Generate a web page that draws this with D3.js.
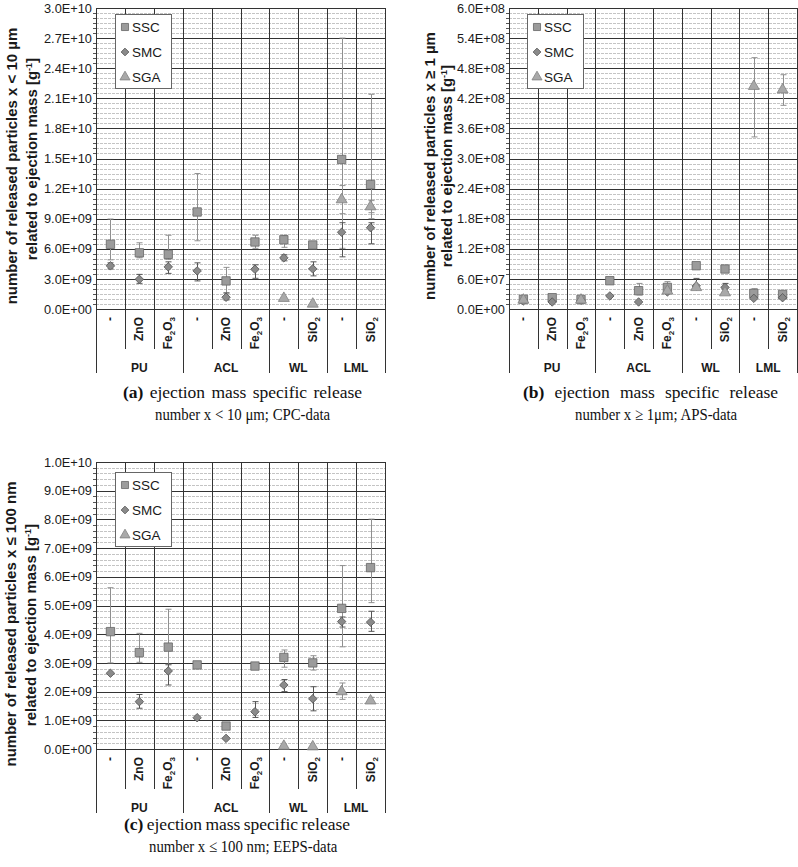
<!DOCTYPE html>
<html>
<head>
<meta charset="utf-8">
<script src="https://cdn.jsdelivr.net/npm/d3@7"></script>
<style>
  body { margin: 0; background: #fff; }
  svg { display: block; }
</style>
</head>
<body>
<svg id="chart" width="798" height="867"></svg>
<script>
// categories shared by all three panels
const cats = ["-", "ZnO", "Fe2O3", "-", "ZnO", "Fe2O3", "-", "SiO2", "-", "SiO2"];
const groups = ["PU", "ACL", "WL", "LML"];
const groupSizes = [3, 3, 2, 2];
const seriesNames = ["SSC", "SMC", "SGA"];

// (a) CPC-data, unit 1e9
const cpcSSC   = [6.45, 5.6, 5.45, 9.67, 2.8, 6.68, 6.9, 6.38, 14.9, 12.4];
const cpcSSCLo = [4.9, 5.1, 4.95, 6.8, 1.6, 6.05, 6.15, 6.15, 6.05, 9.0];
const cpcSSCHi = [8.97, 6.6, 7.35, 13.5, 4.15, 7.35, 7.35, 6.6, 27.0, 21.4];
const cpcSMC   = [4.3, 2.96, 4.2, 3.8, 1.17, 3.96, 5.1, 4.0, 7.65, 8.1];
const cpcSMCLo = [4.0, 2.56, 3.55, 2.8, 0.9, 3.06, 4.8, 3.3, 5.2, 6.5];
const cpcSMCHi = [4.6, 3.45, 4.7, 4.6, 1.6, 4.4, 5.4, 4.7, 8.6, 8.6];
const cpcSGA   = [null, null, null, null, null, null, 1.07, 0.5, 10.9, 10.2];
const cpcSGALo = [null, null, null, null, null, null, null, null, 9.5, 9.6];
const cpcSGAHi = [null, null, null, null, null, null, null, null, 12.3, 10.8];

// (b) APS-data, unit 1e7
const apsSSC   = [1.93, 2.25, 1.9, 5.64, 3.65, 4.3, 8.63, 7.97, 3.1, 2.9];
const apsSSCLo = [null, null, null, 5.3, 2.8, 3.1, 8.2, 7.5, 2.2, 2.2];
const apsSSCHi = [null, null, null, 6.0, 5.1, 5.45, 9.1, 8.4, 4.05, 3.5];
const apsSMC   = [1.6, 1.4, 1.73, 2.6, 1.4, 3.4, 4.6, 4.3, 2.13, 2.25];
const apsSMCLo = [null, null, null, null, null, null, 4.0, 3.5, null, null];
const apsSMCHi = [null, null, null, null, null, null, 6.1, 5.1, null, null];
const apsSGA   = [1.8, null, 1.8, null, null, 3.6, 4.3, 3.25, 44.4, 43.7];
const apsSGALo = [null, null, null, null, null, null, null, null, 34.3, 40.6];
const apsSGAHi = [null, null, null, null, null, null, null, null, 50.1, 46.7];

// (c) EEPS-data, unit 1e9
const eepsSSC   = [4.09, 3.36, 3.55, 2.93, 0.8, 2.89, 3.19, 3.0, 4.9, 6.32];
const eepsSSCLo = [3.0, 3.02, 2.93, 2.85, 0.7, 2.8, 2.85, 2.75, 3.56, 5.1];
const eepsSSCHi = [5.62, 4.03, 4.87, 3.0, 0.9, 3.0, 3.45, 3.25, 6.39, 8.01];
const eepsSMC   = [2.64, 1.65, 2.72, 1.09, 0.37, 1.3, 2.23, 1.75, 4.44, 4.42];
const eepsSMCLo = [null, 1.42, 2.23, null, null, 1.1, 2.0, 1.33, 4.25, 4.1];
const eepsSMCHi = [null, 1.9, 2.96, null, null, 1.65, 2.42, 2.17, 4.6, 4.8];
const eepsSGA   = [null, null, null, null, null, null, 0.1, 0.08, 2.0, 1.68];
const eepsSGALo = [null, null, null, null, null, null, null, null, 1.73, 1.6];
const eepsSGAHi = [null, null, null, null, null, null, null, null, 2.3, 1.8];

const panels = [
  {
    x0: 96, x1: 385, y0: 8, y1: 309, unit: 1e9, ymax: 30, major: 3, minor: 0.5,
    title: ["number of released particles x < 10 µm", "related to ejection mass [g"],
    titleX: [17, 37], titleY: [166, 159],
    legend: [115, 14],
    caption: ["(a)", " ejection mass specific release", "number x < 10 μm; CPC-data"],
    capX: [123, 362, 155], capY: [398, 420],
    series: [
      [cpcSSC, cpcSSCLo, cpcSSCHi], [cpcSMC, cpcSMCLo, cpcSMCHi], [cpcSGA, cpcSGALo, cpcSGAHi]
    ]
  },
  {
    x0: 509, x1: 797, y0: 8, y1: 309, unit: 1e7, ymax: 60, major: 6, minor: 1,
    title: ["number of released particles x ≥ 1 µm", "related to ejection mass [g"],
    titleX: [435, 452], titleY: [166, 166],
    legend: [527, 14],
    caption: ["(b)", " ejection mass specific release", "number x ≥ 1μm; APS-data"],
    capX: [523, 778, 575], capY: [398, 420],
    series: [
      [apsSSC, apsSSCLo, apsSSCHi], [apsSMC, apsSMCLo, apsSMCHi], [apsSGA, apsSGALo, apsSGAHi]
    ]
  },
  {
    x0: 96, x1: 385, y0: 462, y1: 749, unit: 1e9, ymax: 10, major: 1, minor: 0.2,
    title: ["number of released particles x ≤ 100 nm", "related to ejection mass [g"],
    titleX: [16, 36], titleY: [624, 625],
    legend: [115, 472],
    caption: ["(c)", " ejection mass specific release", "number x ≤ 100 nm; EEPS-data"],
    capX: [124, 350, 149], capY: [830, 852],
    series: [
      [eepsSSC, eepsSSCLo, eepsSSCHi], [eepsSMC, eepsSMCLo, eepsSMCHi], [eepsSGA, eepsSGALo, eepsSGAHi]
    ]
  }
];

const markerStyle = [
  {fill: "#9b9b9b", stroke: "#666"},
  {fill: "#8a8a8a", stroke: "#555"},
  {fill: "#a9a9a9", stroke: "#808080"}
];
const errColor = ["#8f8f8f", "#555", "#8f8f8f"];

function sciFmt(v) {
  if (v === 0) return "0.0E+00";
  let e = Math.floor(Math.log10(v) + 1e-9);
  let m = v / Math.pow(10, e);
  return m.toFixed(1) + "E+" + String(e).padStart(2, "0");
}

function marker(sel, i, big) {
  if (i === 0) {
    sel.attr("d", d3.symbol(d3.symbolSquare, big ? 70 : 50)());
  } else if (i === 1) {
    sel.attr("d", d3.symbol(d3.symbolSquare, big ? 36 : 30)());
  } else {
    sel.attr("d", d3.symbol(d3.symbolTriangle, big ? 52 : 44)());
  }
  sel.attr("fill", markerStyle[i].fill).attr("stroke", markerStyle[i].stroke).attr("stroke-width", 0.8);
}

// chemistry label with subscripts
function chemText(t, label) {
  let parts = label.match(/[A-Za-z\-]+|\d+/g);
  let shifted = false;
  parts.forEach(p => {
    if (/\d/.test(p)) {
      t.append("tspan").attr("dy", 3).attr("font-size", "8px").text(p);
      shifted = true;
    } else {
      t.append("tspan").attr("dy", shifted ? -3 : 0).text(p);
      shifted = false;
    }
  });
}

const svg = d3.select("#chart");
svg.append("rect").attr("width", 798).attr("height", 867).attr("fill", "#fff");

panels.forEach(p => {
  const g = svg.append("g");
  const x = d3.scaleBand().domain(d3.range(cats.length)).range([p.x0, p.x1]);
  const y = d3.scaleLinear().domain([0, p.ymax]).range([p.y1, p.y0]);

  const minorVals = d3.range(0, p.ymax + 1e-9, p.minor).filter(v => Math.abs(v / p.major - Math.round(v / p.major)) > 1e-6);
  const majorVals = d3.range(0, p.ymax + 1e-9, p.major);

  // minor grid
  g.append("g").selectAll("line").data(minorVals).join("line")
    .attr("x1", p.x0).attr("x2", p.x1)
    .attr("y1", d => Math.round(y(d)) + 0.5).attr("y2", d => Math.round(y(d)) + 0.5)
    .attr("stroke", "#c4c4c4").attr("stroke-dasharray", "3,1");

  // minor ticks on the axis
  g.append("g").selectAll("line").data(minorVals).join("line")
    .attr("x1", p.x0 - 3).attr("x2", p.x0)
    .attr("y1", d => Math.round(y(d)) + 0.5).attr("y2", d => Math.round(y(d)) + 0.5)
    .attr("stroke", "#555");

  // major grid
  g.append("g").selectAll("line").data(majorVals).join("line")
    .attr("x1", p.x0).attr("x2", p.x1)
    .attr("y1", d => Math.round(y(d)) + 0.5).attr("y2", d => Math.round(y(d)) + 0.5)
    .attr("stroke", "#333");

  // y axis labels
  g.append("g")
    .attr("transform", `translate(${p.x0},0)`)
    .call(d3.axisLeft(y).tickValues(majorVals).tickSize(0).tickPadding(4)
      .tickFormat(d => sciFmt(d * p.unit)))
    .call(a => a.select(".domain").remove())
    .call(a => a.selectAll("text")
      .attr("font-family", "Liberation Sans, Arial, sans-serif")
      .attr("font-size", "12.8px").attr("fill", "#1a1a1a"));

  // vertical column lines, through plot and category row
  const bounds = d3.range(cats.length + 1).map(i => i < cats.length ? x(i) : p.x1);
  const groupBounds = [0];
  groupSizes.reduce((s, n) => { groupBounds.push(s + n); return s + n; }, 0);
  g.append("g").selectAll("line").data(bounds).join("line")
    .attr("x1", d => Math.round(d) + 0.5).attr("x2", d => Math.round(d) + 0.5)
    .attr("y1", p.y0).attr("y2", (d, i) => groupBounds.includes(i) ? p.y1 + 64 : p.y1 + 40)
    .attr("stroke", "#333");

  // category labels (rotated)
  g.append("g").selectAll("text").data(cats).join("text")
    .attr("transform", (d, i) => `translate(${x(i) + x.bandwidth() / 2 + 4},${p.y1 + 8}) rotate(-90)`)
    .attr("text-anchor", "end")
    .attr("font-family", "Liberation Sans, Arial, sans-serif")
    .attr("font-size", "12px").attr("font-weight", "bold").attr("fill", "#1a1a1a")
    .each(function(d) { chemText(d3.select(this), d); });

  // group labels
  g.append("g").selectAll("text").data(groups).join("text")
    .attr("x", (d, i) => (bounds[groupBounds[i]] + bounds[groupBounds[i + 1]]) / 2)
    .attr("y", p.y1 + 63)
    .attr("text-anchor", "middle")
    .attr("font-family", "Liberation Sans, Arial, sans-serif")
    .attr("font-size", "12px").attr("font-weight", "bold").attr("fill", "#1a1a1a")
    .text(d => d);

  // error bars and markers
  p.series.forEach((s, si) => {
    const [vals, lo, hi] = s;
    const idx = d3.range(vals.length).filter(i => lo[i] != null && vals[i] != null);
    const eb = g.append("g").attr("stroke", errColor[si]).attr("stroke-width", 1);
    idx.forEach(i => {
      const cx = Math.round(x(i) + x.bandwidth() / 2) + 0.5;
      eb.append("line").attr("x1", cx).attr("x2", cx).attr("y1", y(lo[i])).attr("y2", y(hi[i]));
      eb.append("line").attr("x1", cx - 3).attr("x2", cx + 3).attr("y1", y(lo[i])).attr("y2", y(lo[i]));
      eb.append("line").attr("x1", cx - 3).attr("x2", cx + 3).attr("y1", y(hi[i])).attr("y2", y(hi[i]));
    });
  });
  p.series.forEach((s, si) => {
    const vals = s[0];
    const idx = d3.range(vals.length).filter(i => vals[i] != null);
    g.append("g").selectAll("path").data(idx).join("path")
      .call(sel => marker(sel, si, true))
      .attr("transform", i => `translate(${x(i) + x.bandwidth() / 2},${y(vals[i])})` + (si === 1 ? " rotate(45)" : ""));
  });

  // legend
  const lg = g.append("g").attr("transform", `translate(${p.legend[0]},${p.legend[1]})`);
  lg.append("rect").attr("x", 0.5).attr("y", 0.5).attr("width", 56).attr("height", 74)
    .attr("fill", "#fff").attr("stroke", "#666");
  seriesNames.forEach((n, i) => {
    const row = lg.append("g").attr("transform", `translate(10,${13 + i * 25})`);
    row.append("path").call(sel => marker(sel, i, false))
      .attr("transform", i === 1 ? "rotate(45)" : null);
    row.append("text").attr("x", 7).attr("y", 5)
      .attr("font-family", "Liberation Sans, Arial, sans-serif")
      .attr("font-size", "13.5px").attr("fill", "#1a1a1a").text(n);
  });

  // y title
  p.title.forEach((t, i) => {
    const tt = g.append("text")
      .attr("transform", `translate(${p.titleX[i]},${p.titleY[i]}) rotate(-90)`)
      .attr("text-anchor", "middle")
      .attr("font-family", "Liberation Sans, Arial, sans-serif")
      .attr("font-size", "15px").attr("font-weight", "bold").attr("fill", "#1a1a1a");
    tt.append("tspan").text(t);
    if (i === 1) {
      tt.append("tspan").attr("dy", -5).attr("font-size", "9px").text("-1");
      tt.append("tspan").attr("dy", 5).text("]");
    }
  });

  // caption: first line spread to its measured width, second line condensed
  const c1 = g.append("text")
    .attr("x", p.capX[0]).attr("y", p.capY[0])
    .attr("font-family", "Liberation Serif, Times New Roman, serif")
    .attr("font-size", "17.5px").attr("fill", "#111");
  c1.append("tspan").attr("font-weight", "bold").text(p.caption[0]);
  c1.append("tspan").text(p.caption[1]);
  const natural = c1.node().getComputedTextLength();
  const nSpaces = (p.caption[1].match(/ /g) || []).length;
  c1.attr("word-spacing", ((p.capX[1] - p.capX[0]) - natural) / nSpaces);
  g.append("text")
    .attr("transform", `translate(${p.capX[2]},${p.capY[1]}) scale(0.87,1)`)
    .attr("font-family", "Liberation Serif, Times New Roman, serif")
    .attr("font-size", "17px").attr("fill", "#111")
    .text(p.caption[2]);
});
</script>
</body>
</html>
